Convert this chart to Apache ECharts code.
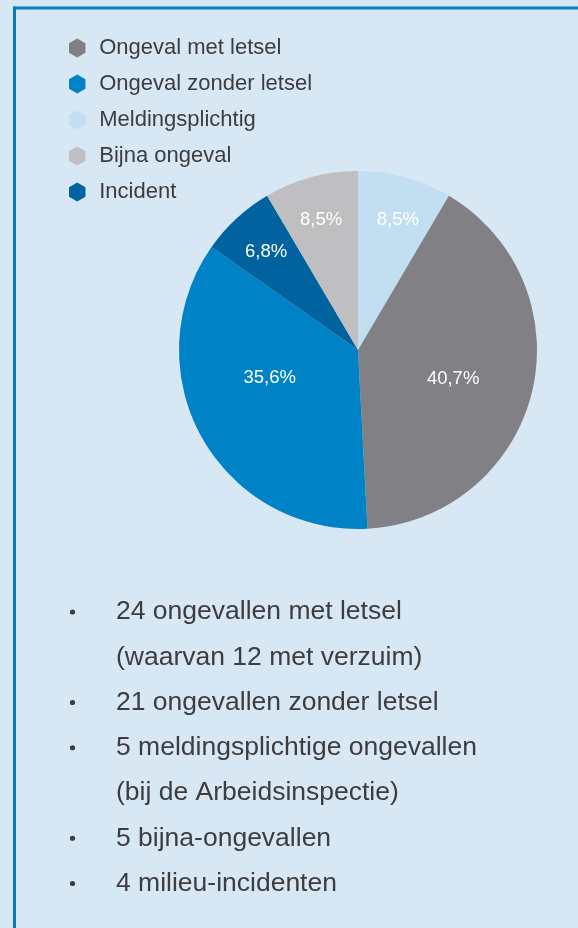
<!DOCTYPE html>
<html>
<head>
<meta charset="utf-8">
<script src="https://cdn.jsdelivr.net/npm/echarts@6/dist/echarts.min.js"></script>
<style>
  html, body { margin: 0; padding: 0; background: #d7e7f4; }
  #chart { width: 578px; height: 928px; }
</style>
</head>
<body>
<div id="chart"></div>
<script>
// Incident categories, in the order the slices run clockwise from 12 o'clock
const sliceNames = ['Meldingsplichtig', 'Ongeval met letsel', 'Ongeval zonder letsel', 'Incident', 'Bijna ongeval'];
const sliceValues = [5, 24, 21, 4, 5];
const sliceColors = ['#c1dff0', '#818185', '#0082c6', '#00629e', '#bfbfc1'];

// Legend order
const legendNames = ['Ongeval met letsel', 'Ongeval zonder letsel', 'Meldingsplichtig', 'Bijna ongeval', 'Incident'];

// Summary list below the chart (each entry: bullet line + continuation lines)
const notes = [
  ['24 ongevallen met letsel', '(waarvan 12 met verzuim)'],
  ['21 ongevallen zonder letsel'],
  ['5 meldingsplichtige ongevallen', '(bij de Arbeidsinspectie)'],
  ['5 bijna-ongevallen'],
  ['4 milieu-incidenten']
];

const FONT = '"Liberation Sans", Arial, Helvetica, sans-serif';
const TEXT = '#3d3d3f';
const total = sliceValues.reduce((a, b) => a + b, 0);
const pct = v => (v / total * 100).toFixed(1).replace('.', ',') + '%';
const hexagon = 'path://M0.866,0 L1.732,0.5 L1.732,1.5 L0.866,2 L0,1.5 L0,0.5 Z';

const pieData = sliceNames.map((n, i) => ({ name: n, value: sliceValues[i], itemStyle: { color: sliceColors[i] } }));

// transparent ring used only to carry labels at a given radius
function labelRing(radius, showIf) {
  return {
    type: 'pie', silent: true, legendHoverLink: false,
    center: [358, 350], radius: radius, startAngle: 90, clockwise: true,
    itemStyle: { color: 'rgba(0,0,0,0)', borderWidth: 0 },
    emphasis: { disabled: true },
    labelLine: { show: false },
    data: sliceNames.map((n, i) => ({
      name: n, value: sliceValues[i],
      label: { show: showIf(sliceValues[i] / total) }
    })),
    label: {
      position: 'inside', color: '#ffffff', fontFamily: FONT, fontSize: 18.5,
      formatter: p => pct(p.value)
    },
    // digits sit high in the em box; drop them a little, and lift the
    // lower-left label so it sits level with its neighbour
    labelLayout: p => ({ dy: p.dataIndex === 2 ? -21 : 5, dx: p.dataIndex === 1 ? -3 : (p.dataIndex === 0 || p.dataIndex === 3 ? 3 : 0) })
  };
}

// bullet list graphics
const graphics = [];
const lineTop = 612, linePitch = 45.25;
let row = 0;
notes.forEach(lines => {
  lines.forEach((t, j) => {
    const y = lineTop + row * linePitch;
    if (j === 0) {
      graphics.push({ type: 'circle', shape: { cx: 72.5, cy: y, r: 2.6 }, style: { fill: TEXT } });
    }
    graphics.push({
      type: 'text', x: 116, y: y,
      style: { text: t, fontSize: 26.5, fontFamily: FONT, fill: TEXT, verticalAlign: 'middle' }
    });
    row++;
  });
});
// frame: top and left rule
graphics.push({ type: 'line', shape: { x1: 13, y1: 8, x2: 578, y2: 8 }, style: { stroke: '#0b7cc4', lineWidth: 3 } });
graphics.push({ type: 'line', shape: { x1: 14.5, y1: 6.5, x2: 14.5, y2: 928 }, style: { stroke: '#0b7cc4', lineWidth: 3 } });

const chart = echarts.init(document.getElementById('chart'), null, { renderer: 'canvas' });
chart.setOption({
  backgroundColor: '#d7e7f4',
  animation: false,
  legend: {
    orient: 'vertical', left: 64, top: 31,
    data: legendNames.map(n => ({ name: n, icon: hexagon })),
    itemWidth: 34, itemHeight: 19, itemGap: 12,
    selectedMode: false,
    textStyle: { fontFamily: FONT, fontSize: 22, color: TEXT, lineHeight: 24 }
  },
  graphic: graphics,
  series: [
    {
      type: 'pie', name: 'Incidenten',
      center: [358, 350], radius: [0, 179], startAngle: 90, clockwise: true,
      label: { show: false }, labelLine: { show: false },
      emphasis: { scale: false },
      data: pieData
    },
    labelRing([17, 179], share => share > 0.2),
    labelRing([95, 179], share => share <= 0.2)
  ]
});
</script>
</body>
</html>
